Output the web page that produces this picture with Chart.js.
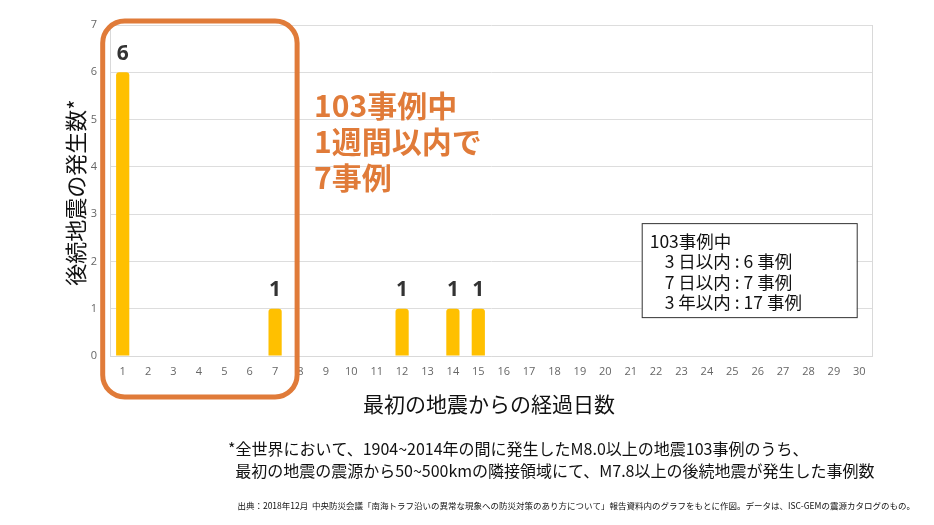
<!DOCTYPE html>
<html>
<head>
<meta charset="utf-8">
<script src="https://cdn.jsdelivr.net/npm/chart.js@4"></script>
<style>
  html, body { margin: 0; padding: 0; background: #fff; }
  #wrap { width: 934px; height: 525px; position: relative; }
</style>
</head>
<body>
<div id="wrap"><canvas id="chartCanvas"></canvas></div>
<script>
// 経過日数 1〜30
const days = [];
for (let d = 1; d <= 30; d++) days.push(String(d));

// 後続地震の発生数
const counts = [6, 0, 0, 0, 0, 0, 1, 0, 0, 0,
                0, 1, 0, 1, 1, 0, 0, 0, 0, 0,
                0, 0, 0, 0, 0, 0, 0, 0, 0, 0];

const yTitle = "後続地震の発生数*";
const xTitle = "最初の地震からの経過日数";
const calloutLines = ["103事例中", "1週間以内で", "7事例"];
const boxLines = ["103事例中", "3 日以内 : 6 事例", "7 日以内 : 7 事例", "3 年以内 : 17 事例"];
const noteLines = [
  "*全世界において、1904~2014年の間に発生したM8.0以上の地震103事例のうち、",
  "  最初の地震の震源から50~500kmの隣接領域にて、M7.8以上の後続地震が発生した事例数"
];
const sourceText = "出典：2018年12月  中央防災会議「南海トラフ沿いの異常な現象への防災対策のあり方について」報告資料内のグラフをもとに作図。データは、ISC-GEMの震源カタログのもの。";

const jp = '"Noto Sans CJK JP", "Noto Sans", sans-serif';
const orange = '#E07B39';

const extras = {
  id: 'extras',
  afterDraw(chart) {
    const ctx = chart.ctx;
    const area = chart.chartArea;
    const xs = chart.scales.x, ys = chart.scales.y;
    ctx.save();

    // 右側の枠線
    ctx.strokeStyle = '#D9D9D9';
    ctx.lineWidth = 1;
    ctx.beginPath();
    ctx.moveTo(area.right + 0.5, area.top);
    ctx.lineTo(area.right + 0.5, area.bottom);
    ctx.stroke();

    // 値ラベル
    ctx.fillStyle = '#333';
    ctx.font = 'bold 21px "Noto Sans", sans-serif';
    ctx.textAlign = 'center';
    ctx.textBaseline = 'bottom';
    const meta = chart.getDatasetMeta(0);
    counts.forEach((v, i) => {
      if (v > 0) {
        const bar = meta.data[i];
        ctx.fillText(String(v), bar.x, bar.y - 8);
      }
    });

    // 1週間の囲み
    const x1 = xs.getPixelForValue(0) - 20;
    const x2 = xs.getPixelForValue(6) + 22;
    const y1 = ys.getPixelForValue(7) - 4;
    const y2 = ys.getPixelForValue(0) + 41;
    ctx.strokeStyle = orange;
    ctx.lineWidth = 5;
    ctx.beginPath();
    ctx.roundRect(x1, y1, x2 - x1, y2 - y1, 22);
    ctx.stroke();

    // オレンジの注記
    ctx.fillStyle = orange;
    ctx.font = 'bold 30px ' + jp;
    ctx.textAlign = 'left';
    ctx.textBaseline = 'middle';
    calloutLines.forEach((t, i) => ctx.fillText(t, x2 + 17, ys.getPixelForValue(5.3) + i * 36));

    // 凡例ボックス
    const bx = xs.getPixelForValue(20) + 11, by = ys.getPixelForValue(2.81);
    const bw = 215, bh = 94;
    ctx.fillStyle = '#fff';
    ctx.fillRect(bx, by, bw, bh);
    ctx.strokeStyle = '#333';
    ctx.lineWidth = 1;
    ctx.strokeRect(bx + 0.5, by + 0.5, bw, bh);
    ctx.fillStyle = '#111';
    ctx.font = '17.5px ' + jp;
    boxLines.forEach((t, i) => ctx.fillText(t, bx + (i === 0 ? 8 : 23), by + 18 + i * 20.5));

    // 軸タイトル
    ctx.fillStyle = '#111';
    ctx.font = '21px ' + jp;
    ctx.textAlign = 'center';
    ctx.fillText(xTitle, (area.left + area.right) / 2 - 2, area.bottom + 48);
    ctx.save();
    ctx.translate(76, (area.top + area.bottom) / 2 + 2);
    ctx.rotate(-Math.PI / 2);
    ctx.font = '22px ' + jp;
    ctx.fillText(yTitle, 0, 0);
    ctx.restore();

    // 脚注
    ctx.textAlign = 'left';
    ctx.font = '16px ' + jp;
    noteLines.forEach((t, i) => ctx.fillText(t, 228, 449 + i * 22));
    ctx.font = '8.5px ' + jp;
    ctx.textAlign = 'right';
    ctx.fillText(sourceText, 915, 506);

    ctx.restore();
  }
};

new Chart(document.getElementById('chartCanvas'), {
  type: 'bar',
  data: {
    labels: days,
    datasets: [{
      data: counts,
      backgroundColor: '#FFC000',
      borderRadius: 3,
      borderSkipped: 'bottom',
      barPercentage: 0.52,
      categoryPercentage: 1
    }]
  },
  options: {
    responsive: true,
    maintainAspectRatio: false,
    animation: false,
    layout: { padding: { top: 25, right: 62, left: 0, bottom: 0 } },
    plugins: { legend: { display: false }, tooltip: { enabled: false } },
    scales: {
      x: {
        grid: { display: false, drawTicks: false },
        border: { color: '#D9D9D9' },
        ticks: { color: '#666', font: { family: '"Open Sans", sans-serif', size: 11 }, padding: 9, maxRotation: 0, autoSkip: false },
        afterFit: s => { s.height = 525 - 356; }
      },
      y: {
        min: 0, max: 7,
        grid: { color: '#DDDDDD', drawTicks: false },
        border: { display: true, color: '#D9D9D9' },
        ticks: { stepSize: 1, color: '#666', font: { family: '"Open Sans", sans-serif', size: 11 }, padding: 13 },
        afterFit: s => { s.width = 110; }
      }
    }
  },
  plugins: [extras]
});
</script>
</body>
</html>
